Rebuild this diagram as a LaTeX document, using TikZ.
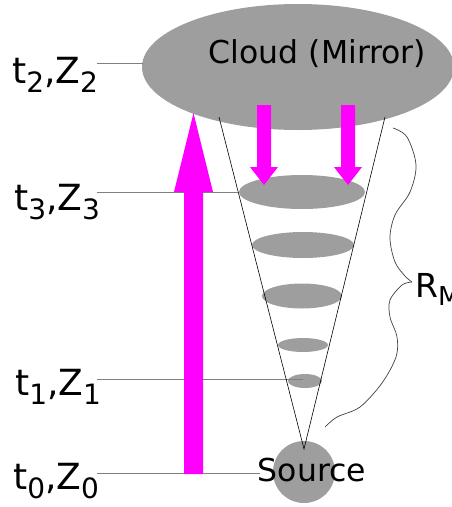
\documentclass[tikz,border=0pt]{standalone}
\usepackage{fontspec}
\setmainfont{DejaVu Sans}
\usetikzlibrary{shapes.geometric}
\definecolor{cgray}{HTML}{9E9E9E}
\definecolor{mag}{HTML}{FF00FF}
\definecolor{lgray}{HTML}{808080}
\newcommand{\lsub}[1]{\raisebox{-9pt}{\fontsize{28}{28}\selectfont #1}}
\newcommand{\rsub}[1]{\raisebox{-8pt}{\fontsize{26}{26}\selectfont #1}}
\begin{document}
\begin{tikzpicture}[x=1pt,y=-1pt,
  blob/.style={ellipse, fill=cgray, draw=none, inner sep=0pt},
  leader/.style={draw=lgray, line width=1pt},
  conel/.style={draw=black, line width=0.6pt},
  bigtxt/.style={font=\fontsize{31.5}{31.5}\selectfont, inner sep=0pt, anchor=base},
  labtxt/.style={font=\fontsize{36}{36}\selectfont, inner sep=0pt, anchor=base west},
  arr/.style={fill=mag, draw=none},
  bracel/.style={draw=black!75, line width=0.7pt}]
\useasboundingbox (0,0) rectangle (452,507);
\clip (0,0) rectangle (452,507);
% blobs
\node[blob, minimum width=312pt, minimum height=126pt] (cloud) at (298,67) {};
\node[blob, minimum width=126pt, minimum height=34pt] (e1) at (302,192) {};
\node[blob, minimum width=102pt, minimum height=26pt] (e2) at (303,245) {};
\node[blob, minimum width=80pt, minimum height=25pt] (e3) at (302,296) {};
\node[blob, minimum width=50pt, minimum height=14pt] (e4) at (303,345) {};
\node[blob, minimum width=34pt, minimum height=14pt] (e5) at (305,381) {};
\node[circle, fill=cgray, inner sep=0pt, minimum size=62pt] (src) at (304,472) {};
% labels
\node[labtxt] (l2) at (12,83) {t\lsub{2},Z\lsub{2}};
\node[labtxt] (l3) at (14,210) {t\lsub{3},Z\lsub{3}};
\node[labtxt] (l1) at (15,395) {t\lsub{1},Z\lsub{1}};
\node[labtxt] (l0) at (13,489) {t\lsub{0},Z\lsub{0}};
% leader end points
\coordinate (a2) at (97,63);  \coordinate (b2) at (143,63);
\coordinate (a3) at (97,192); \coordinate (b3) at (238,192);
\coordinate (a1) at (97,379); \coordinate (b1) at (303,379);
\coordinate (a0) at (97,473); \coordinate (b0) at (260,473);
\draw[leader] (a2) -- (b2);
\draw[leader] (a3) -- (b3);
\draw[leader] (a1) -- (b1);
\draw[leader] (a0) -- (b0);
% cone
\coordinate (apex) at (304,449);
\coordinate (tl) at (219,117);
\coordinate (tr) at (385,117);
\draw[conel] (tl) -- (apex) -- (tr);
% arrows
\fill[arr] (184,474) -- (184,192) -- (174,192) -- (193.5,113) -- (213,192) -- (203,192) -- (203,474) -- cycle;
\fill[arr] (257,105) -- (257,167) -- (250,167) -- (264,185) -- (278,167) -- (271,167) -- (271,105) -- cycle;
\fill[arr] (341,105) -- (341,167) -- (334,167) -- (348,185) -- (362,167) -- (355,167) -- (355,105) -- cycle;
% texts
\node[bigtxt] (ctext) at (317.5,63) {Cloud (Mirror)};
\node[bigtxt] (stext) at (312,481) {Source};
\node[inner sep=0pt, anchor=base west, font=\fontsize{33}{33}\selectfont] (rm) at (415,297) {R\rsub{M}};
% brace
\draw[bracel] plot[smooth, tension=0.55] coordinates {(393,128) (407,137) (416,165) (410,192) (395,215) (390,238) (395,262) (405,276) (412,282)};
\draw[bracel] plot[smooth, tension=0.55] coordinates {(412,282) (402,285) (390,300) (390,317) (397,337) (396,357) (382,383) (360,407) (337,417) (325,427)};
\end{tikzpicture}
\end{document}
